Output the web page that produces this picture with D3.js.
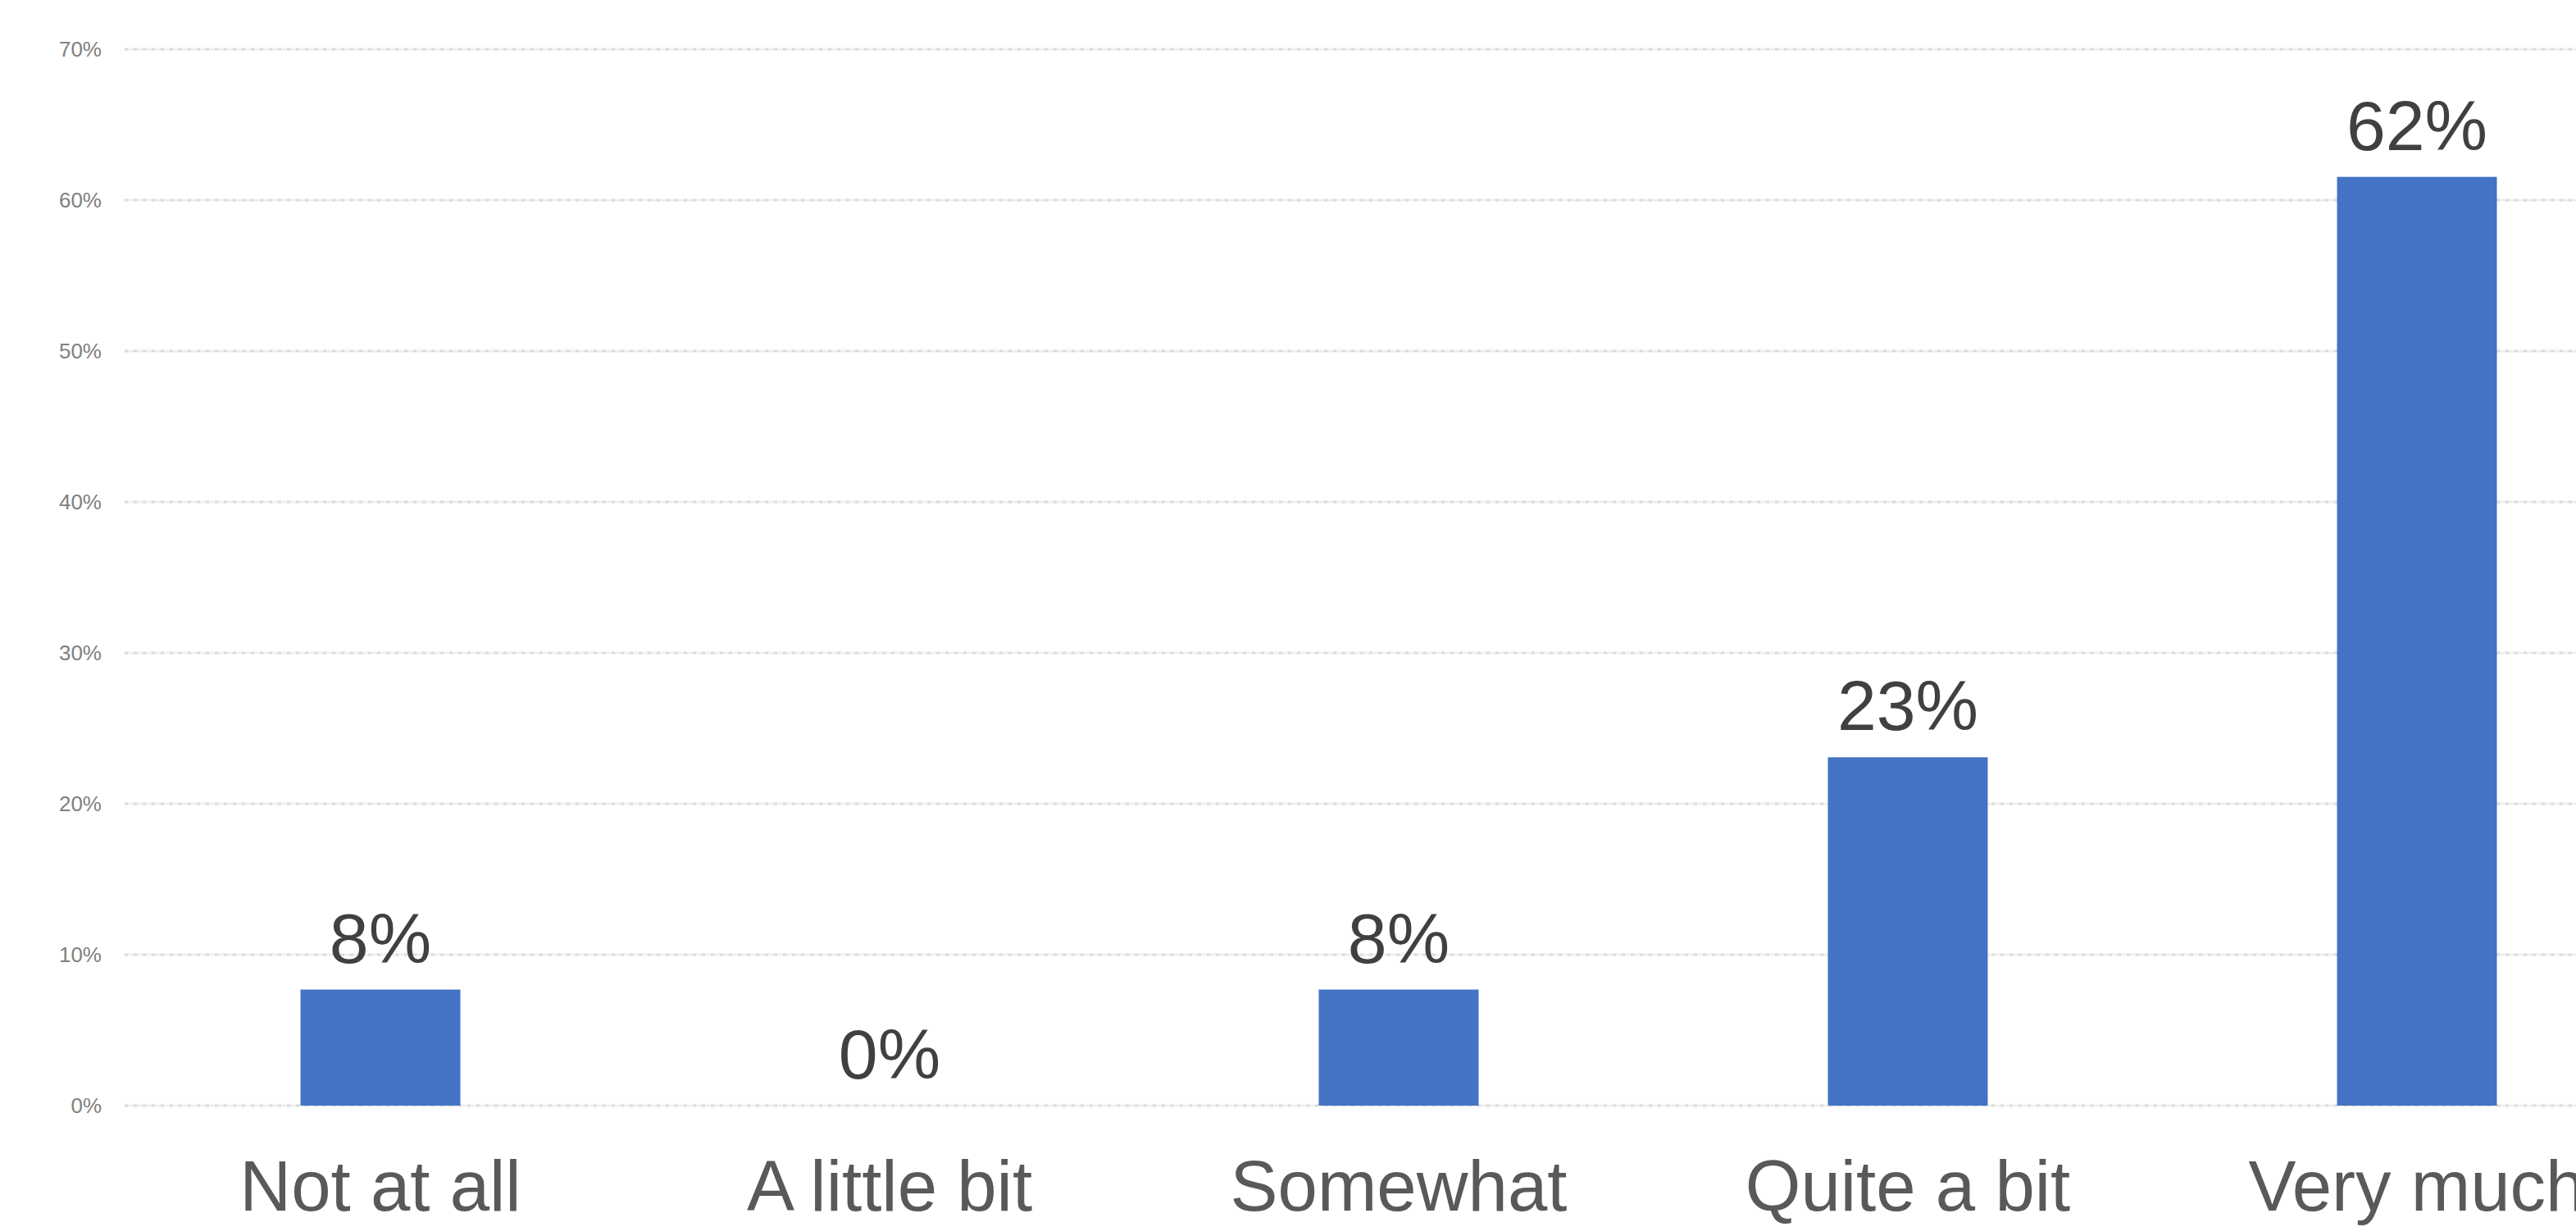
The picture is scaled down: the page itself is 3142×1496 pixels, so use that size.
<!DOCTYPE html>
<html>
<head>
<meta charset="utf-8">
<script src="https://cdn.jsdelivr.net/npm/d3@7"></script>
<style>
  html, body { margin: 0; padding: 0; background: #ffffff; overflow: hidden; }
  svg { display: block; }
</style>
</head>
<body>
<script>
// Data (13 respondents: 1, 0, 1, 3, 8)
const categories = ["Not at all", "A little bit", "Somewhat", "Quite a bit", "Very much"];
const values = [0.0769, 0.0, 0.0769, 0.2308, 0.6154];
const valueLabels = ["8%", "0%", "8%", "23%", "62%"];
const yTicks = [0, 0.1, 0.2, 0.3, 0.4, 0.5, 0.6, 0.7];
const yTickLabels = ["0%", "10%", "20%", "30%", "40%", "50%", "60%", "70%"];

const W = 3142, H = 1496;
const plotLeft = 153.5, plotRight = 153.5 + 5 * 621;
const plotTop = 60, plotBottom = 1348;

const svg = d3.select("body").append("svg")
  .attr("width", W).attr("height", H);

const x = d3.scaleBand()
  .domain(categories)
  .range([plotLeft, plotRight])
  .paddingInner(0.686)
  .paddingOuter(0.343);

const y = d3.scaleLinear()
  .domain([0, 0.7])
  .range([plotBottom, plotTop]);

// Gridlines
const grid = svg.append("g");
yTicks.forEach(t => {
  grid.append("line")
    .attr("x1", 152).attr("x2", plotRight)
    .attr("y1", y(t)).attr("y2", y(t))
    .attr("stroke", "#efefef").attr("stroke-width", 3);
  grid.append("line")
    .attr("x1", 152).attr("x2", plotRight)
    .attr("y1", y(t)).attr("y2", y(t))
    .attr("stroke", "#dcdcdc").attr("stroke-width", 3)
    .attr("stroke-dasharray", "4,7");
});

// Y axis labels
const yAxis = d3.axisLeft(y)
  .tickValues(yTicks)
  .tickFormat((d, i) => yTickLabels[i])
  .tickSize(0)
  .tickPadding(0);
const yg = svg.append("g")
  .attr("transform", "translate(124,0)")
  .call(yAxis);
yg.select(".domain").remove();
yg.selectAll("text")
  .attr("font-family", "'Liberation Sans', Arial, sans-serif")
  .attr("font-size", 26)
  .attr("fill", "#808080");

// Bars
svg.append("g").selectAll("rect")
  .data(values)
  .join("rect")
  .attr("x", (d, i) => x(categories[i]))
  .attr("width", x.bandwidth())
  .attr("y", d => y(d))
  .attr("height", d => plotBottom - y(d))
  .attr("fill", "#4472C4");

// Value labels
svg.append("g").selectAll("text")
  .data(values)
  .join("text")
  .attr("x", (d, i) => x(categories[i]) + x.bandwidth() / 2)
  .attr("y", d => y(d) - 33)
  .attr("text-anchor", "middle")
  .attr("font-family", "'Liberation Sans', Arial, sans-serif")
  .attr("font-size", 86)
  .attr("fill", "#404040")
  .text((d, i) => valueLabels[i]);

// Category labels
const xAxis = d3.axisBottom(x).tickSize(0).tickPadding(0);
const xg = svg.append("g")
  .attr("transform", "translate(0,1476)")
  .call(xAxis);
xg.select(".domain").remove();
xg.selectAll("text")
  .attr("dy", 0)
  .attr("y", 0)
  .attr("font-family", "'Liberation Sans', Arial, sans-serif")
  .attr("font-size", 87)
  .attr("fill", "#595959");
</script>
</body>
</html>
